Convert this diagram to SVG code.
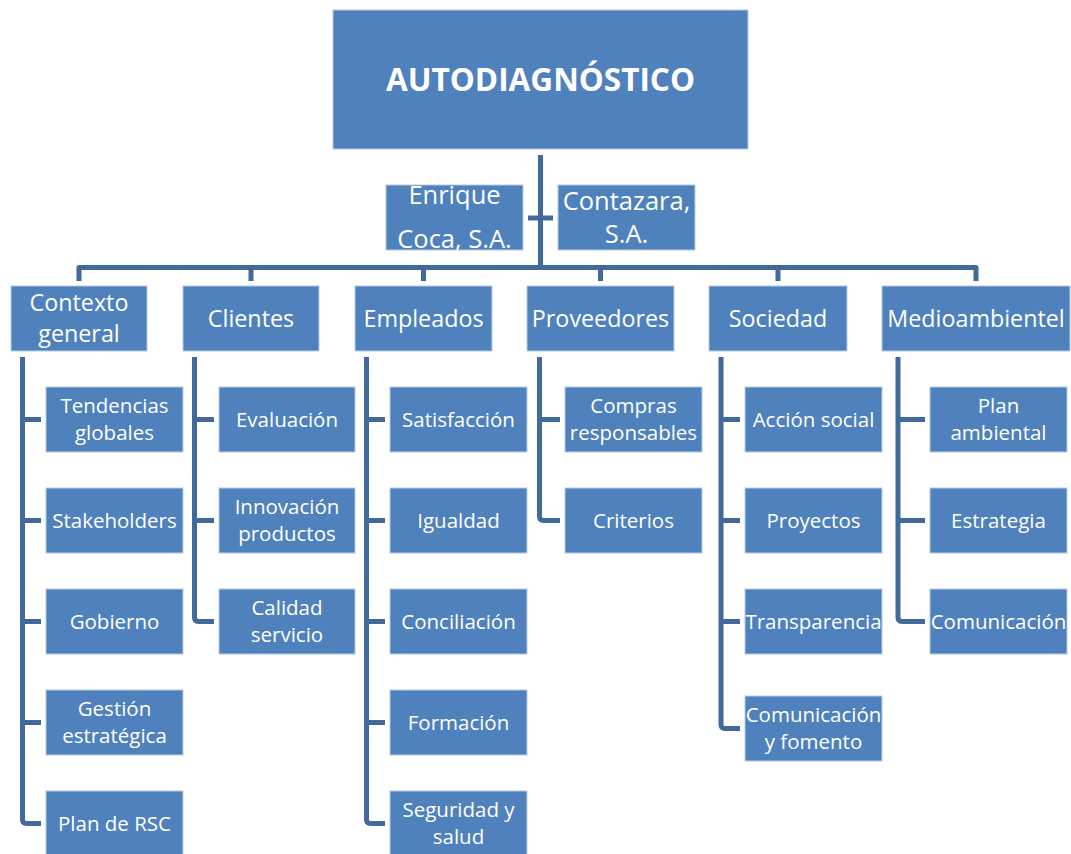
<svg xmlns="http://www.w3.org/2000/svg" width="1071" height="854" viewBox="0 0 1071 854">
<style>
.box{fill:#4F81BD;stroke:#B8CCE4;stroke-width:1}
.conn{fill:none;stroke:#41699B;stroke-width:5;stroke-linejoin:round}
text{font-family:"Open Sans","Liberation Sans",sans-serif;fill:#FFFFFF;text-anchor:middle}
.root{font-size:31.5px;font-weight:bold}
.top{font-size:23.3px}
.co{font-size:25.5px}
.ch{font-size:20.5px}
</style>
<rect width="1071" height="854" fill="#FFFFFF"/>
<g id="connectors">
<path class="conn" d="M540.5,155 V267.5"/>
<path class="conn" d="M528,218 H553"/>
<path class="conn" d="M79,281 V267.5 H976 V281"/>
<path class="conn" d="M251,267.5 V281 M423.5,267.5 V281 M600.5,267.5 V281 M778,267.5 V281"/>
<path class="conn" d="M22.5,357 V819.5 Q22.5,823.5 26.5,823.5 H41 M22.5,419.5 H41 M22.5,520.5 H41 M22.5,621.5 H41 M22.5,722.5 H41"/>
<path class="conn" d="M194.5,357 V617.5 Q194.5,621.5 198.5,621.5 H214 M194.5,419.5 H214 M194.5,520.5 H214"/>
<path class="conn" d="M366.5,357 V819.5 Q366.5,823.5 370.5,823.5 H385 M366.5,419.5 H385 M366.5,520.5 H385 M366.5,621.5 H385 M366.5,722.5 H385"/>
<path class="conn" d="M539.5,357 V516.5 Q539.5,520.5 543.5,520.5 H560 M539.5,419.5 H560"/>
<path class="conn" d="M721,357 V724.5 Q721,728.5 725,728.5 H740 M721,419.5 H740 M721,520.5 H740 M721,621.5 H740"/>
<path class="conn" d="M898,357 V617.5 Q898,621.5 902,621.5 H925 M898,419.5 H925 M898,520.5 H925"/>
</g>
<g id="root"><rect class="box" x="333" y="10" width="415" height="139"/><text class="root" x="540.5" y="91">AUTODIAGNÓSTICO</text></g>
<g id="enrique"><rect class="box" x="386" y="185" width="137" height="65"/><text class="co" x="454.5" y="204">Enrique</text><text class="co" x="454.5" y="248">Coca, S.A.</text></g>
<g id="contazara"><rect class="box" x="558" y="185" width="137" height="65"/><text class="co" x="626.5" y="210">Contazara,</text><text class="co" x="626.5" y="243">S.A.</text></g>

<g id="contexto"><rect class="box" x="11" y="286" width="136" height="65"/><text class="top" x="79" y="311">Contexto</text><text class="top" x="79" y="342">general</text></g>
<g id="clientes"><rect class="box" x="183" y="286" width="136" height="65"/><text class="top" x="251" y="326.5">Clientes</text></g>
<g id="empleados"><rect class="box" x="355" y="286" width="137" height="65"/><text class="top" x="423.5" y="326.5">Empleados</text></g>
<g id="proveedores"><rect class="box" x="527" y="286" width="147" height="65"/><text class="top" x="600.5" y="326.5">Proveedores</text></g>
<g id="sociedad"><rect class="box" x="709" y="286" width="138" height="65"/><text class="top" x="778" y="326.5">Sociedad</text></g>
<g id="medioambientel"><rect class="box" x="882" y="286" width="188" height="65"/><text class="top" x="976" y="326.5">Medioambientel</text></g>

<g id="tendencias"><rect class="box" x="46" y="387" width="137" height="65"/><text class="ch" x="114.5" y="413">Tendencias</text><text class="ch" x="114.5" y="440">globales</text></g>
<g id="stakeholders"><rect class="box" x="46" y="488" width="137" height="65"/><text class="ch" x="114.5" y="527.5">Stakeholders</text></g>
<g id="gobierno"><rect class="box" x="46" y="589" width="137" height="65"/><text class="ch" x="114.5" y="628.5">Gobierno</text></g>
<g id="gestion"><rect class="box" x="46" y="690" width="137" height="65"/><text class="ch" x="114.5" y="716">Gestión</text><text class="ch" x="114.5" y="743">estratégica</text></g>
<g id="planrsc"><rect class="box" x="46" y="791" width="137" height="65"/><text class="ch" x="114.5" y="830.5">Plan de RSC</text></g>

<g id="evaluacion"><rect class="box" x="219" y="387" width="136" height="65"/><text class="ch" x="287" y="426.5">Evaluación</text></g>
<g id="innovacion"><rect class="box" x="219" y="488" width="136" height="65"/><text class="ch" x="287" y="514">Innovación</text><text class="ch" x="287" y="541">productos</text></g>
<g id="calidad"><rect class="box" x="219" y="589" width="136" height="65"/><text class="ch" x="287" y="615">Calidad</text><text class="ch" x="287" y="642">servicio</text></g>

<g id="satisfaccion"><rect class="box" x="390" y="387" width="137" height="65"/><text class="ch" x="458.5" y="426.5">Satisfacción</text></g>
<g id="igualdad"><rect class="box" x="390" y="488" width="137" height="65"/><text class="ch" x="458.5" y="527.5">Igualdad</text></g>
<g id="conciliacion"><rect class="box" x="390" y="589" width="137" height="65"/><text class="ch" x="458.5" y="628.5">Conciliación</text></g>
<g id="formacion"><rect class="box" x="390" y="690" width="137" height="65"/><text class="ch" x="458.5" y="729.5">Formación</text></g>
<g id="seguridad"><rect class="box" x="390" y="791" width="137" height="65"/><text class="ch" x="458.5" y="817">Seguridad y</text><text class="ch" x="458.5" y="844">salud</text></g>

<g id="compras"><rect class="box" x="565" y="387" width="137" height="65"/><text class="ch" x="633.5" y="413">Compras</text><text class="ch" x="633.5" y="440">responsables</text></g>
<g id="criterios"><rect class="box" x="565" y="488" width="137" height="65"/><text class="ch" x="633.5" y="527.5">Criterios</text></g>

<g id="accion"><rect class="box" x="745" y="387" width="137" height="65"/><text class="ch" x="813.5" y="426.5">Acción social</text></g>
<g id="proyectos"><rect class="box" x="745" y="488" width="137" height="65"/><text class="ch" x="813.5" y="527.5">Proyectos</text></g>
<g id="transparencia"><rect class="box" x="745" y="589" width="137" height="65"/><text class="ch" x="813.5" y="628.5">Transparencia</text></g>
<g id="comfomento"><rect class="box" x="745" y="696" width="137" height="65"/><text class="ch" x="813.5" y="722">Comunicación</text><text class="ch" x="813.5" y="749">y fomento</text></g>

<g id="planamb"><rect class="box" x="930" y="387" width="137" height="65"/><text class="ch" x="998.5" y="413">Plan</text><text class="ch" x="998.5" y="440">ambiental</text></g>
<g id="estrategia"><rect class="box" x="930" y="488" width="137" height="65"/><text class="ch" x="998.5" y="527.5">Estrategia</text></g>
<g id="comunicacion"><rect class="box" x="930" y="589" width="137" height="65"/><text class="ch" x="998.5" y="628.5">Comunicación</text></g>
</svg>
